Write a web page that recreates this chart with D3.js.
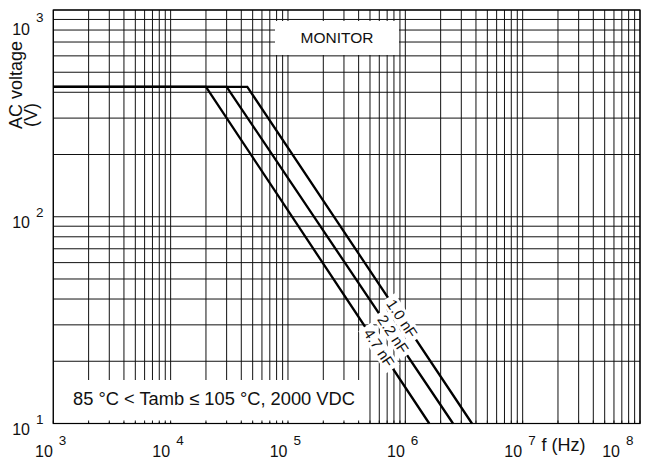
<!DOCTYPE html>
<html><head><meta charset="utf-8">
<script src="https://cdn.jsdelivr.net/npm/d3@7"></script>
<style>
html,body{margin:0;padding:0;background:#fff;}
svg{display:block;font-family:"Liberation Sans",Arial,Helvetica,sans-serif;}
</style></head>
<body>
<svg id="chart" width="647" height="459"></svg>
<script>
// ---- data ----
const seriesNames = ["1.0 nF", "2.2 nF", "4.7 nF"];
const startFreq = [1e3, 1e3, 1e3];
const plateauVolt = [425, 425, 425];
const cornerFreq = [45e3, 30e3, 20e3];
const endFreq = [3.7e6, 2.55e6, 1.6e6];
const endVolt = [10, 10, 10];
const labelFreq = [9.37e5, 7.85e5, 5.97e5];
const xDecades = [1e3, 1e4, 1e5, 1e6, 1e7, 1e8];
const xExponents = ["3", "4", "5", "6", "7", "8"];
const yDecades = [10, 100, 1000];
const yExponents = ["1", "2", "3"];
const yTitle = ["AC voltage", "(V)"];
const xTitle = "f (Hz)";
const boxText = "MONITOR";
const noteText = "85 °C < Tamb ≤ 105 °C, 2000 VDC";

// ---- layout ----
const L = 53.3, R = 640, T = 10, B = 423.5;
const svg = d3.select("#chart");
const x = d3.scaleLog().domain([1e3, 1e8]).range([L, R]);
const y = d3.scaleLog().domain([10, 1000]).range([B, T]);

const xGrid = [];
for (let d = 1e3; d < 1e8; d *= 10) for (let k = 1; k <= 9; k++) xGrid.push(d * k);
xGrid.push(1e8);
const yGrid = [];
for (let d = 10; d < 1000; d *= 10) for (let k = 1; k <= 9; k++) yGrid.push(d * k);
yGrid.push(1000);

const g = svg.append("g");
g.selectAll("line.vx").data(xGrid).join("line")
  .attr("x1", d => x(d)).attr("x2", d => x(d)).attr("y1", T).attr("y2", B)
  .attr("stroke", "#111").attr("stroke-width", 1);
g.selectAll("line.hy").data(yGrid).join("line")
  .attr("y1", d => y(d)).attr("y2", d => y(d)).attr("x1", L).attr("x2", R)
  .attr("stroke", "#111").attr("stroke-width", 1);

// white boxes
g.append("rect").attr("x", 275).attr("y", 21).attr("width", 124).attr("height", 34).attr("fill", "#fff");
g.append("text").attr("x", 337).attr("y", 43).attr("text-anchor", "middle")
  .attr("font-size", 15.5).attr("fill", "#111").text(boxText);
g.append("rect").attr("x", L + 0.5).attr("y", 380).attr("width", 313).attr("height", 42).attr("fill", "#fff");
g.append("text").attr("x", 73).attr("y", 405).attr("font-size", 18.3).attr("fill", "#111").text(noteText);

// bottom inner ticks
g.selectAll("line.tk").data(xGrid).join("line")
  .attr("x1", d => x(d)).attr("x2", d => x(d)).attr("y1", B).attr("y2", B - 3)
  .attr("stroke", "#111").attr("stroke-width", 1);

// frame
g.append("rect").attr("x", L).attr("y", T).attr("width", R - L).attr("height", B - T)
  .attr("fill", "none").attr("stroke", "#000").attr("stroke-width", 1.2);

// curves
const series = seriesNames.map((n, i) => ({
  name: n,
  pts: [[startFreq[i], plateauVolt[i]], [cornerFreq[i], plateauVolt[i]], [endFreq[i], endVolt[i]]],
  lf: labelFreq[i]
}));
const line = d3.line().x(d => x(d[0])).y(d => y(d[1]));
g.selectAll("path.c").data(series).join("path")
  .attr("d", d => line(d.pts)).attr("fill", "none").attr("stroke", "#000")
  .attr("stroke-width", 2.3).attr("stroke-linejoin", "miter");

// curve labels: compute placement on each line
const placed = series.map(s => {
  const p1 = s.pts[1], p2 = s.pts[2];
  const t = (Math.log10(s.lf) - Math.log10(p1[0])) / (Math.log10(p2[0]) - Math.log10(p1[0]));
  const lv = Math.pow(10, Math.log10(p1[1]) + t * (Math.log10(p2[1]) - Math.log10(p1[1])));
  const ang = Math.atan2(y(p2[1]) - y(p1[1]), x(p2[0]) - x(p1[0])) * 180 / Math.PI;
  return { name: s.name, px: x(s.lf), py: y(lv), ang };
});
const bgLayer = g.append("g"), txLayer = g.append("g");
placed.forEach(p => {
  const tx = txLayer.append("text")
    .attr("transform", `translate(${p.px},${p.py}) rotate(${p.ang})`)
    .attr("text-anchor", "middle").attr("dy", "0.35em")
    .attr("font-size", 15).attr("fill", "#111").text(p.name);
  const w = tx.node().getComputedTextLength();
  bgLayer.append("rect").attr("transform", `translate(${p.px},${p.py}) rotate(${p.ang})`)
    .attr("x", -w / 2 - 4).attr("y", -8).attr("width", w + 8).attr("height", 16).attr("fill", "#fff");
});

// y tick labels
yDecades.forEach((v, i) => {
  const ty = y(v);
  const top = (i === yDecades.length - 1);
  const b1 = top ? 35 : ty + 11.5, b2 = top ? 22 : ty + 0.5;
  g.append("text").attr("x", 30).attr("y", b1).attr("text-anchor", "end").attr("font-size", 16).attr("fill", "#111").text("10");
  g.append("text").attr("x", 36).attr("y", b2).attr("font-size", 13.5).attr("fill", "#111").text(yExponents[i]);
});
// x tick labels
xDecades.forEach((v, i) => {
  const last = (i === xDecades.length - 1);
  const tx = last ? 620 : x(v) - 0.5;
  g.append("text").attr("x", tx).attr("y", 456.5).attr("text-anchor", "end").attr("font-size", 16).attr("fill", "#111").text("10");
  g.append("text").attr("x", tx + 6).attr("y", 445).attr("font-size", 13.5).attr("fill", "#111").text(xExponents[i]);
});
// axis titles (start-aligned, reading upward)
g.append("text").attr("transform", "translate(22,129) rotate(-90)").attr("text-anchor", "start")
  .attr("font-size", 18).attr("fill", "#111").text(yTitle[0]);
g.append("text").attr("transform", "translate(37,127) rotate(-90)").attr("text-anchor", "start")
  .attr("font-size", 18).attr("fill", "#111").text(yTitle[1]);
g.append("text").attr("x", 541.5).attr("y", 451).attr("font-size", 18).attr("fill", "#111").text(xTitle);
</script>
</body></html>
